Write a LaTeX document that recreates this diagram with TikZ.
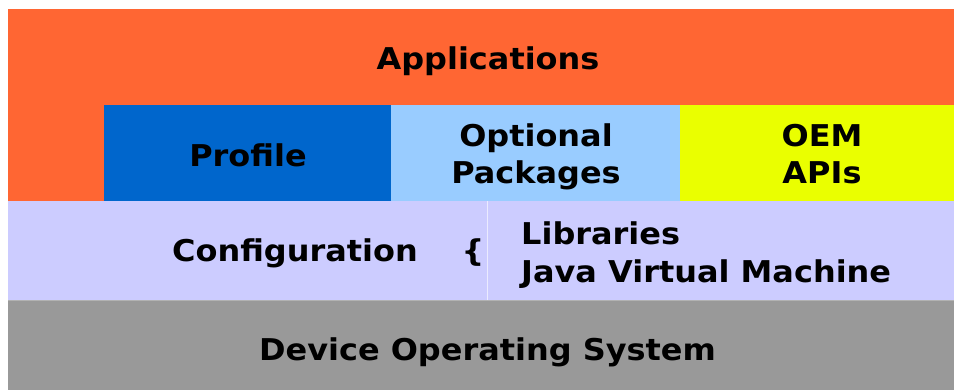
\documentclass[tikz,border=0pt]{standalone}
\usepackage{fontspec}
\setmainfont[FakeStretch=1.065]{DejaVu Sans}
\definecolor{appor}{HTML}{FF6633}
\definecolor{profblue}{HTML}{0066CC}
\definecolor{optblue}{HTML}{99CCFF}
\definecolor{oemyel}{HTML}{EAFF00}
\definecolor{conflav}{HTML}{CCCCFF}
\definecolor{osgrey}{HTML}{999999}
\begin{document}
\begin{tikzpicture}[x=1pt,y=-1pt,
  lbl/.style={font=\bfseries\fontsize{30}{36}\selectfont, text=black, anchor=base, inner sep=0pt}]
\useasboundingbox (0,0) rectangle (954,390);
\fill[white] (0,0) rectangle (954,390);
% bands
\fill[appor] (8,9) rectangle (954,105);
\fill[appor] (8,105) rectangle (104,201);
\fill[profblue] (104,105) rectangle (391,201);
\fill[optblue] (391,105) rectangle (680,201);
\fill[oemyel] (680,105) rectangle (954,201);
\fill[conflav] (8,201) rectangle (954,300);
\fill[osgrey] (8,300) rectangle (954,390);
\draw[line width=1pt, draw=black!30] (8,300.5) -- (954,300.5);
\draw[line width=0.8pt, draw=white!60!conflav] (487,201) -- (487,300);
% texts
\node[lbl] (apps) at (488,70) {Applications};
\node[lbl] (prof) at (248,167) {Profile};
\node[lbl] (opt1) at (536,147) {Optional};
\node[lbl] (opt2) at (536,184) {Packages};
\node[lbl] (oem1) at (822,147) {OEM};
\node[lbl] (oem2) at (822,184) {APIs};
\node[lbl] (conf) at (295,262) {Configuration};
\node[lbl] (brace) at (473,262) {\{};
\node[lbl, anchor=base west] (libs) at (521,245) {Libraries};
\node[lbl, anchor=base west] (jvm) at (521,283) {Java Virtual Machine};
\node[lbl] (os) at (487.5,360) {Device Operating System};
\end{tikzpicture}
\end{document}
